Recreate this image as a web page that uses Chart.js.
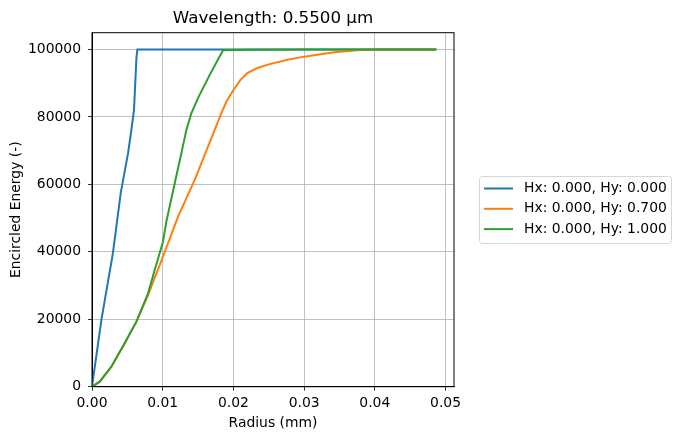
<!DOCTYPE html>
<html>
<head>
<meta charset="utf-8">
<script src="https://cdn.jsdelivr.net/npm/chart.js@4/dist/chart.umd.min.js"></script>
<style>
  html, body { margin: 0; padding: 0; background: #fff; }
  #wrap { width: 680px; height: 440px; position: relative; }
</style>
</head>
<body>
<div id="wrap"><canvas id="eeChart" width="680" height="440"></canvas></div>
<script>
// Encircled energy data (radius in mm, energy unitless)
const blueRadius = [0, 0.00133, 0.00297, 0.00406, 0.00510, 0.00557, 0.00594, 0.00614, 0.00628, 0.00642, 0.0487];
const blueEnergy = [0, 19800, 39760, 57400, 69260, 76170, 82100, 91000, 97450, 100000, 100000];

const orangeRadius = [0, 0.00109, 0.00274, 0.00462, 0.00628, 0.00793, 0.01004, 0.01217, 0.01453, 0.01641, 0.0183, 0.0190, 0.0200, 0.0210, 0.0220, 0.0235, 0.0250, 0.0275, 0.0300, 0.0340, 0.0383, 0.0400, 0.0487];
const orangeEnergy = [0, 1480, 5930, 12870, 19290, 27200, 38580, 50450, 61330, 71220, 81130, 84500, 88000, 91000, 93100, 94600, 95600, 96900, 97900, 99100, 99910, 100000, 100000];

const greenRadius = [0, 0.00109, 0.00274, 0.00462, 0.00628, 0.00793, 0.00887, 0.01004, 0.01052, 0.0117, 0.01264, 0.01335, 0.01406, 0.01499, 0.01665, 0.01853, 0.022, 0.03, 0.0487];
const greenEnergy = [0, 1480, 5930, 12870, 19290, 27700, 34600, 43000, 49000, 60350, 69260, 76170, 81130, 85580, 92490, 99800, 99950, 100000, 100000];

const seriesLabels = ['Hx: 0.000, Hy: 0.000', 'Hx: 0.000, Hy: 0.700', 'Hx: 0.000, Hy: 1.000'];
const seriesColors = ['#1f77b4', '#ff7f0e', '#2ca02c'];
const xTicks = [0, 0.01, 0.02, 0.03, 0.04, 0.05];
const yTicks = [0, 20000, 40000, 60000, 80000, 100000];
const chartTitle = 'Wavelength: 0.5500 µm';

const FONT = 'DejaVu Sans';
const FS = 13.9;

function toPoints(xs, ys) {
    return xs.map((x, i) => ({ x: x, y: ys[i] }));
}

const series = [
    toPoints(blueRadius, blueEnergy),
    toPoints(orangeRadius, orangeEnergy),
    toPoints(greenRadius, greenEnergy)
];

// frame, title and legend drawn like matplotlib
const framePlugin = {
    id: 'frame',
    afterDraw(chart) {
        const { ctx, chartArea: a } = chart;
        ctx.save();
        ctx.strokeStyle = '#000';
        ctx.lineWidth = 1;
        ctx.strokeRect(a.left, a.top, a.right - a.left, a.bottom - a.top);

        ctx.fillStyle = '#000';
        ctx.font = '16.7px "' + FONT + '"';
        ctx.textAlign = 'center';
        ctx.textBaseline = 'alphabetic';
        ctx.fillText(chartTitle, (a.left + a.right) / 2, 23);

        // legend box
        const bx = 479.5, by = 176.5, bw = 192, bh = 67;
        ctx.fillStyle = 'rgba(255,255,255,0.8)';
        ctx.strokeStyle = '#d6d6d6';
        ctx.beginPath();
        ctx.roundRect(bx, by, bw, bh, 3);
        ctx.fill();
        ctx.stroke();

        ctx.font = FS + 'px "' + FONT + '"';
        ctx.textAlign = 'left';
        ctx.textBaseline = 'middle';
        ctx.fillStyle = '#000';
        seriesLabels.forEach((lbl, i) => {
            const yy = 188.5 + i * 20.3;
            ctx.strokeStyle = seriesColors[i];
            ctx.lineWidth = 2;
            ctx.beginPath();
            ctx.moveTo(484, yy);
            ctx.lineTo(513, yy);
            ctx.stroke();
            ctx.fillText(lbl, 524, yy);
        });
        ctx.restore();
    }
};

new Chart(document.getElementById('eeChart'), {
    type: 'line',
    data: {
        datasets: series.map((pts, i) => ({
            label: seriesLabels[i],
            data: pts,
            borderColor: seriesColors[i],
            backgroundColor: seriesColors[i],
            borderWidth: 2,
            pointRadius: 0,
            tension: 0,
            fill: false,
            order: 3 - i
        }))
    },
    options: {
        responsive: false,
        animation: false,
        layout: { padding: { left: 0, right: 226, top: 32.7, bottom: 0 } },
        plugins: {
            legend: { display: false },
            tooltip: { enabled: false },
            title: { display: false }
        },
        scales: {
            x: {
                type: 'linear',
                min: 0,
                max: 0.0512,
                afterBuildTicks: s => { s.ticks = xTicks.map(v => ({ value: v })); },
                afterFit: s => { s.height = 53.3; },
                ticks: {
                    color: '#000',
                    font: { family: FONT, size: FS },
                    padding: 4,
                    maxRotation: 0,
                    callback: v => v.toFixed(2)
                },
                grid: { color: '#b0b0b0', lineWidth: 0.8, tickColor: '#000', tickLength: 4 },
                border: { color: '#000' },
                title: {
                    display: true,
                    text: 'Radius (mm)',
                    color: '#000',
                    font: { family: FONT, size: FS },
                    padding: { top: 2, bottom: 8 }
                }
            },
            y: {
                min: 0,
                max: 105000,
                afterBuildTicks: s => { s.ticks = yTicks.map(v => ({ value: v })); },
                afterFit: s => { s.width = 92; },
                ticks: {
                    color: '#000',
                    font: { family: FONT, size: FS },
                    padding: 7,
                    callback: v => String(v)
                },
                grid: { color: '#b0b0b0', lineWidth: 0.8, tickColor: '#000', tickLength: 4 },
                border: { color: '#000' },
                title: {
                    display: true,
                    text: 'Encircled Energy (-)',
                    color: '#000',
                    font: { family: FONT, size: FS },
                    padding: { top: 8, bottom: 4 }
                }
            }
        }
    },
    plugins: [framePlugin]
});
</script>
</body>
</html>
